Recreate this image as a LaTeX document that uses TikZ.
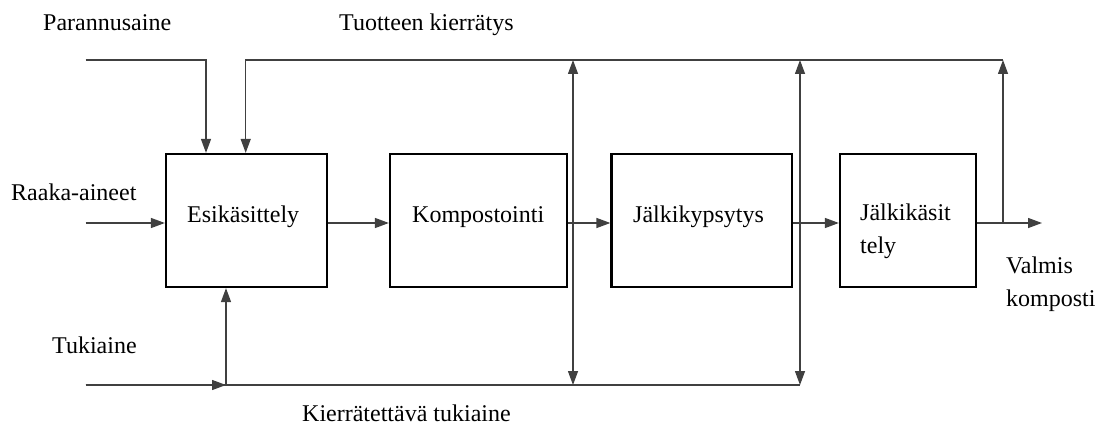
\documentclass[tikz,border=0pt]{standalone}
\usepackage{fontspec}
\setmainfont{Liberation Serif}
\usetikzlibrary{arrows.meta}
\begin{document}
\begin{tikzpicture}[x=1pt,y=-1pt,
  box/.style={draw=black,line width=2.2pt,minimum width=#1,inner sep=0pt,minimum height=133pt},
  conn/.style={draw=black!75,line width=1.3pt},
  arr/.style={conn,-{Triangle[length=14pt,width=10pt]}},
  darr/.style={conn,{Triangle[length=14pt,width=10pt]}-{Triangle[length=14pt,width=10pt]}},
  lbl/.style={anchor=base west,inner sep=0pt,font=\fontsize{24}{28}\selectfont}]
\useasboundingbox (0,0) rectangle (1103,425);
% boxes
\node[box=161pt] (b1) at (246.5,220.5) {};
\node[box=177pt] (b2) at (478.5,220.5) {};
\node[box=180.5pt] (b3) at (701.75,220.5) {};
\node[box=136pt] (b4) at (908,220.5) {};
% box texts
\node[lbl] (t1) at (187,222) {Esikäsittely};
\node[lbl] (t2) at (412,222) {Kompostointi};
\node[lbl] (t3) at (633,222) {Jälkikypsytys};
\node[lbl] (t4a) at (860,220) {Jälkikäsit};
\node[lbl] (t4b) at (860,253) {tely};
% outer labels
\node[lbl] (lpar) at (43,31) {Parannusaine};
\node[lbl] (ltuo) at (339,31) {Tuotteen kierrätys};
\node[lbl] (lraa) at (11,200) {Raaka-aineet};
\node[lbl] (ltuk) at (52,353) {Tukiaine};
\node[lbl] (lkie) at (302,421) {Kierrätettävä tukiaine};
\node[lbl] (lval) at (1006,273) {Valmis};
\node[lbl] (lkom) at (1006,306) {komposti};
% coordinates
\coordinate (pin) at (85.7,60);
\coordinate (p1) at (206,60);
\coordinate (r1) at (245.7,60);
\coordinate (v1t) at (573,60);
\coordinate (v1b) at (573,385);
\coordinate (v2t) at (800,60);
\coordinate (v2b) at (800,385);
\coordinate (v3t) at (1003,60);
\coordinate (v3b) at (1003,223);
\coordinate (rin) at (85.7,223);
\coordinate (out) at (1042,223);
\coordinate (bin) at (85.7,385);
\coordinate (j) at (226,385);
% top inputs
\draw[arr] (pin) -- (p1) -- (p1 |- b1.north);
\draw[arr] (v3t) -- (r1) -- (r1 |- b1.north);
% recirculation verticals
\draw[darr] (v1b) -- (v1t);
\draw[darr] (v2b) -- (v2t);
\draw[arr] (v3b) -- (v3t);
% main flow
\draw[arr] (rin) -- (b1.west |- rin);
\draw[arr] (b1.east |- rin) -- (b2.west |- rin);
\draw[arr] (b2.east |- rin) -- (b3.west |- rin);
\draw[arr] (b3.east |- rin) -- (b4.west |- rin);
\draw[arr] (b4.east |- rin) -- (out);
% bottom line
\draw[conn] (bin) -- (v2b);
\draw[arr] (bin) -- (j);
\draw[arr] (j) -- (j |- b1.south);
\end{tikzpicture}
\end{document}
